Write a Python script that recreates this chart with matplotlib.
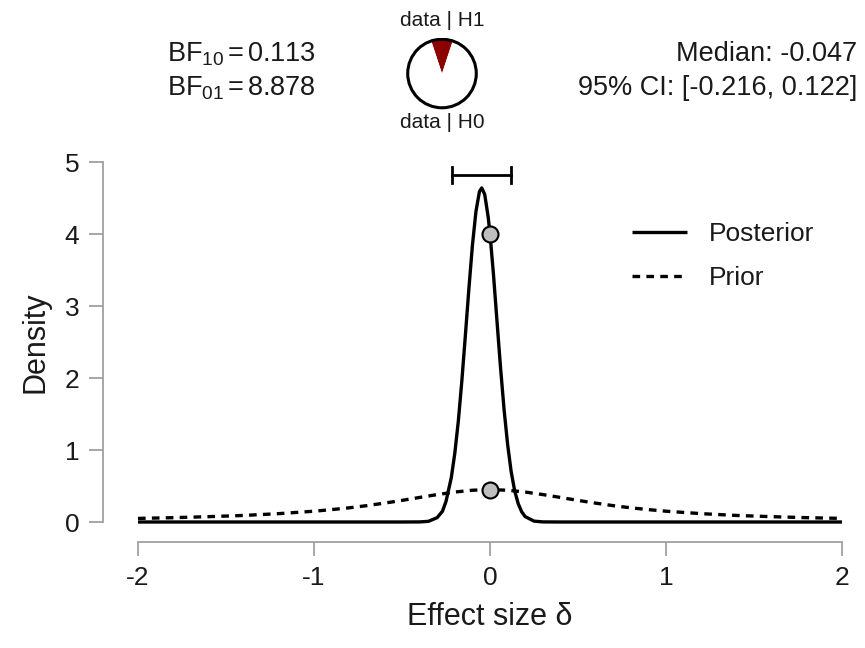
import matplotlib
matplotlib.use("Agg")
import matplotlib.pyplot as plt
from matplotlib.patches import Circle

plt.rcParams['font.family'] = ['Liberation Sans', 'DejaVu Sans']
plt.rcParams['mathtext.fontset'] = 'custom'
plt.rcParams['mathtext.rm'] = 'Liberation Sans'
plt.rcParams['mathtext.it'] = 'Liberation Sans:italic'
plt.rcParams['lines.scale_dashes'] = False

# ---- data ----
posterior_x = [-2.0, -0.5, -0.4, -0.35, -0.3, -0.27, -0.25, -0.22, -0.2, -0.18, -0.16, -0.14,
               -0.12, -0.10, -0.08, -0.06, -0.047, -0.03, -0.01, 0.0, 0.02, 0.04, 0.06,
               0.08, 0.10, 0.12, 0.14, 0.16, 0.18, 0.20, 0.25, 0.3, 0.4, 2.0]
posterior_y = [0.0, 0.0, 0.001, 0.009, 0.061, 0.15, 0.286, 0.615, 0.954, 1.40, 1.96, 2.59,
               3.24, 3.84, 4.31, 4.59, 4.64, 4.55, 4.23, 4.00, 3.43, 2.78, 2.14,
               1.56, 1.08, 0.703, 0.436, 0.256, 0.142, 0.075, 0.012, 0.0014, 0.0, 0.0]
prior_x = [-2.0, -1.8, -1.6, -1.4, -1.2, -1.0, -0.9, -0.8, -0.7, -0.6, -0.5, -0.4, -0.3, -0.2, -0.1,
           0.0, 0.1, 0.2, 0.3, 0.4, 0.5, 0.6, 0.7, 0.8, 0.9, 1.0, 1.2, 1.4, 1.6, 1.8, 2.0]
prior_y = [0.050, 0.060, 0.074, 0.091, 0.116, 0.150, 0.172, 0.197, 0.227, 0.262, 0.300, 0.341,
           0.381, 0.416, 0.441, 0.450, 0.441, 0.416, 0.381, 0.341, 0.300, 0.262, 0.227, 0.197,
           0.172, 0.150, 0.116, 0.091, 0.074, 0.060, 0.050]
point_x = [0.0, 0.0]
point_y = [4.00, 0.450]
ci = [-0.216, 0.122]
ci_height = 4.82
bf10 = 0.113
bf01 = 8.878
median = -0.047
x_ticks = [-2, -1, 0, 1, 2]
y_ticks = [0, 1, 2, 3, 4, 5]

W, H = 865, 648
fig = plt.figure(figsize=(W / 100, H / 100), dpi=100)
ax = fig.add_axes([138 / W, 126 / H, 704 / W, 360 / H])

lw = 2.4
ax.plot(posterior_x, posterior_y, color='black', lw=lw, solid_capstyle='butt', clip_on=False,
        label='Posterior', zorder=3)
ax.plot(prior_x, prior_y, color='black', lw=lw, linestyle=(0, (5.5, 4.5)), clip_on=False,
        label='Prior', zorder=3)
ax.plot(point_x, point_y, linestyle='none', marker='o', markersize=11.5,
        markerfacecolor='#bfbfbf', markeredgecolor='black', markeredgewidth=1.5, zorder=5,
        clip_on=False)

# credible interval bar
ax.plot(ci, [ci_height, ci_height], color='black', lw=2, clip_on=False)
for cx in ci:
    ax.plot([cx, cx], [ci_height - 0.11, ci_height + 0.11], color='black', lw=2, clip_on=False)

ax.set_xlim(-2, 2)
ax.set_ylim(0, 5)
ax.set_xticks(x_ticks)
ax.set_xticklabels([str(t) for t in x_ticks])
ax.set_yticks(y_ticks)
ax.set_yticklabels([str(t) for t in y_ticks])

for s in ['top', 'right']:
    ax.spines[s].set_visible(False)
gray = '#a0a0a0'
ax.spines['left'].set_position(('outward', 25.2))
ax.spines['bottom'].set_position(('outward', 14.4))
ax.spines['left'].set_bounds(0, 5)
ax.spines['bottom'].set_bounds(-2, 2)
for s in ['left', 'bottom']:
    ax.spines[s].set_color(gray)
    ax.spines[s].set_linewidth(1.3)
ax.tick_params(axis='both', length=10, width=1.3, color=gray, labelsize=19, pad=7,
               labelcolor='#1a1a1a')

ax.set_xlabel('Effect size δ', fontsize=22, labelpad=9, color='#1a1a1a')
ax.set_ylabel('Density', fontsize=22, labelpad=10, color='#1a1a1a')

leg = ax.legend(loc='center left', bbox_to_anchor=(632 / W, 1 - 256 / H),
                bbox_transform=fig.transFigure, frameon=False, fontsize=19,
                handlelength=2.1, handletextpad=0.83, labelspacing=0.75,
                borderpad=0, borderaxespad=0)
for t in leg.get_texts():
    t.set_color('#1a1a1a')

# top annotations
fs_top = 19.5
fig.text(167 / W, 1 - 54 / H, r'BF$_{10}$$\,$=$\,$%.3f' % bf10, fontsize=fs_top, ha='left',
         va='center', color='#1a1a1a')
fig.text(167 / W, 1 - 88 / H, r'BF$_{01}$$\,$=$\,$%.3f' % bf01, fontsize=fs_top, ha='left',
         va='center', color='#1a1a1a')
fig.text(857 / W, 1 - 54 / H, 'Median: %.3f' % median, fontsize=fs_top, ha='right', va='center',
         color='#1a1a1a')
fig.text(857 / W, 1 - 88 / H, '95%% CI: [%.3f, %.3f]' % (ci[0], ci[1]), fontsize=fs_top,
         ha='right', va='center', color='#1a1a1a')

# pie chart
p1 = bf10 / (1 + bf10)
pax = fig.add_axes([(442 - 36) / W, (H - 73.5 - 36) / H, 72 / W, 72 / H])
pax.pie([p1, 1 - p1], colors=['#8b0000', 'white'], startangle=90 - p1 * 180,
        counterclock=True, wedgeprops=dict(linewidth=0))
pax.add_patch(Circle((0, 0), 1.0, fill=False, edgecolor='black', lw=2.2))
pax.set_xlim(-1.05, 1.05)
pax.set_ylim(-1.05, 1.05)
pax.set_aspect('equal')
pax.axis('off')
fig.text(442 / W, 1 - 21 / H, 'data | H1', fontsize=15, ha='center', va='center', color='#1a1a1a')
fig.text(442 / W, 1 - 123 / H, 'data | H0', fontsize=15, ha='center', va='center', color='#1a1a1a')

fig.savefig('out.png', dpi=100)
